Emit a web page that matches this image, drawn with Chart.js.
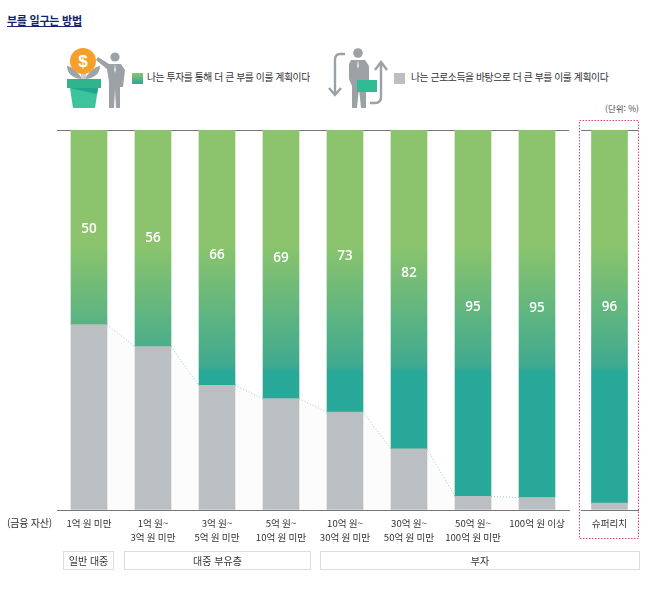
<!DOCTYPE html>
<html lang="ko">
<head>
<meta charset="utf-8">
<title>부를 일구는 방법</title>
<script src="https://cdn.jsdelivr.net/npm/chart.js@4"></script>
<style>
  html, body { margin: 0; padding: 0; background: #fff; overflow: hidden; }
  body { width: 658px; height: 592px; position: relative; font-family: "Noto Sans CJK KR", sans-serif; color: #333; }
  canvas { position: absolute; top: 0; }
  #main-chart { left: 0; }
  #super-chart { left: 575px; }
  .txt { position: absolute; white-space: nowrap; line-height: 1; }
  .title { left: 7px; top: 15px; font-size: 11px; font-weight: 700; letter-spacing: -0.25px; color: #14246b; text-decoration: underline; }
  .legend { top: 73px; font-size: 9.8px; letter-spacing: -0.4px; }
  .swatch { position: absolute; top: 73px; width: 11px; height: 11px; }
  .unit { right: 19px; top: 104px; font-size: 8.5px; color: #444; }
  .axis-name { left: 7px; top: 518px; font-size: 10px; letter-spacing: -0.2px; }
  .group { position: absolute; top: 551px; height: 17px; line-height: 17px; border: 1px solid #dcdcdc; text-align: center; font-size: 10px; box-sizing: content-box; }
  svg { position: absolute; }
</style>
</head>
<body>
<div class="txt title">부를 일구는 방법</div>

<svg style="left:60px;top:44px" width="72" height="68" viewBox="0 0 72 68">
  <path d="M21 33 C16 25 9 22 7 22 C7 29 12 34 21 35 Z M26 33 C31 25 38 22 40 22 C40 29 35 34 26 35 Z" fill="#9ea4a8"/>
  <rect x="21" y="28" width="5" height="8" fill="#c9cccd"/>
  <circle cx="23" cy="17" r="13" fill="#f5a02a"/>
  <text x="23" y="23" text-anchor="middle" font-family="Liberation Sans" font-weight="700" font-size="17" fill="#fff">$</text>
  <rect x="7" y="35" width="34" height="9" fill="#2fb48e"/>
  <path d="M10 44 H38 L35 64 H13 Z" fill="#3cc39c"/>
  <path d="M10 44 H38 L37 50 Z" fill="#1fa48d"/>
  <circle cx="55" cy="13" r="4.6" fill="#9ba1a5"/>
  <path d="M38 13 L49 20 H61 L65 26 L63 43 L60 43 V64 H56 L55 45 L54 64 H49 V38 L47 25 L36 16 Z" fill="#9ba1a5"/>
  <path d="M55 20 L54 26 L55 29 L56 26 Z" fill="#e6e8e9"/>
</svg>
<div class="swatch" style="left:132px;background:linear-gradient(#8bc46c,#2aa898)"></div>
<div class="txt legend" style="left:147px">나는 투자를 통해 더 큰 부를 이룰 계획이다</div>

<svg style="left:325px;top:44px" width="65" height="68" viewBox="0 0 65 68">
  <path d="M20 10 H15 Q10 10 10 16 V51 M4 44 L10 51 L16 44" fill="none" stroke="#9ba1a5" stroke-width="2.4"/>
  <path d="M45 59 H50 Q56 59 56 53 V19 M50 26 L56 18 L62 26" fill="none" stroke="#9ba1a5" stroke-width="2.4"/>
  <circle cx="33" cy="9" r="4.8" fill="#9ba1a5"/>
  <path d="M26 16 H40 L44 22 L44 38 H41 V64 H36 L34 44 L32 64 H27 V42 L24 35 L24 20 Z" fill="#9ba1a5"/>
  <path d="M33 16 L32 22 L33 25 L34 22 Z" fill="#e6e8e9"/>
  <rect x="32" y="36" width="20" height="12" fill="#30bb94"/>
</svg>
<div class="swatch" style="left:394px;background:#bcbfc2"></div>
<div class="txt legend" style="left:411px">나는 근로소득을 바탕으로 더 큰 부를 이룰 계획이다</div>

<div class="txt unit">(단위: %)</div>
<svg style="left:579px;top:120px" width="61" height="420" viewBox="0 0 61 420">
  <rect x="0.5" y="0.5" width="59" height="418" fill="none" stroke="#e0457b" stroke-width="1" stroke-dasharray="1.5 1.5"/>
</svg>

<canvas id="main-chart" width="575" height="592" style="width:575px;height:592px"></canvas>
<canvas id="super-chart" width="70" height="592" style="width:70px;height:592px"></canvas>

<div class="txt axis-name">(금융 자산)</div>
<div class="group" style="left:63px;width:49px">일반 대중</div>
<div class="group" style="left:124px;width:185px">대중 부유층</div>
<div class="group" style="left:320px;width:318px">부자</div>

<script>
// Asset brackets
const categories = [
  '1억 원 미만',
  ['1억 원~', '3억 원 미만'],
  ['3억 원~', '5억 원 미만'],
  ['5억 원~', '10억 원 미만'],
  ['10억 원~', '30억 원 미만'],
  ['30억 원~', '50억 원 미만'],
  ['50억 원~', '100억 원 미만'],
  '100억 원 이상'
];
const superCategories = ['슈퍼리치'];

// Printed numbers on the green part
const investLabels = [50, 56, 66, 69, 73, 82, 95, 95];
const superInvestLabels = [96];

// Bar heights (they differ a little from the printed numbers)
const laborValues = [48.8, 43, 32.8, 29.3, 25.8, 16.1, 3.6, 3.3];
const investValues = [51.2, 57, 67.2, 70.7, 74.2, 83.9, 96.4, 96.7];
const superLaborValues = [1.8];
const superInvestValues = [98.2];

// Gradient is the same for every bar, it runs over the whole plot height
function greenGradient(context) {
  const area = context.chart.chartArea;
  if (!area) return '#8bc46c';
  const g = context.chart.ctx.createLinearGradient(0, area.top, 0, area.bottom);
  g.addColorStop(0, '#8bc46c');
  g.addColorStop(0.3, '#8bc46c');
  g.addColorStop(0.622, '#3fa990');
  g.addColorStop(0.636, '#28a898');
  g.addColorStop(1, '#28a898');
  return g;
}

// Faint band and dotted line between the grey tops
const connectorPlugin = {
  id: 'connectors',
  beforeDatasetsDraw(chart) {
    const bars = chart.getDatasetMeta(0).data;
    const bottom = chart.chartArea.bottom;
    const c = chart.ctx;
    c.save();
    for (let i = 0; i < bars.length - 1; i++) {
      const x1 = bars[i].x + bars[i].width / 2;
      const x2 = bars[i + 1].x - bars[i + 1].width / 2;
      c.fillStyle = '#fcfcfc';
      c.beginPath();
      c.moveTo(x1, bars[i].y);
      c.lineTo(x2, bars[i + 1].y);
      c.lineTo(x2, bottom);
      c.lineTo(x1, bottom);
      c.closePath();
      c.fill();
      c.strokeStyle = '#97cbbf';
      c.setLineDash([1, 2]);
      c.beginPath();
      c.moveTo(x1, bars[i].y);
      c.lineTo(x2, bars[i + 1].y);
      c.stroke();
    }
    c.restore();
  }
};

// White numbers inside the green part
const numberPlugin = {
  id: 'numbers',
  afterDatasetsDraw(chart, args, opts) {
    const c = chart.ctx;
    c.save();
    c.fillStyle = '#fff';
    c.font = '600 13.5px "Open Sans", sans-serif';
    c.textAlign = 'center';
    c.textBaseline = 'middle';
    chart.getDatasetMeta(1).data.forEach((bar, i) => {
      const mid = (bar.y + bar.base) / 2;
      c.fillText(opts.labels[i], bar.x, mid + opts.shift[i]);
    });
    c.restore();
  }
};

function makeChart(id, labels, labor, invest, printed, shift, padding, plugins) {
  return new Chart(document.getElementById(id).getContext('2d'), {
    type: 'bar',
    data: {
      labels: labels,
      datasets: [
        { label: '나는 근로소득을 바탕으로 더 큰 부를 이룰 계획이다', data: labor, backgroundColor: '#bcbfc2', barThickness: 36 },
        { label: '나는 투자를 통해 더 큰 부를 이룰 계획이다', data: invest, backgroundColor: greenGradient, barThickness: 36 }
      ]
    },
    options: {
      responsive: false,
      animation: false,
      layout: { padding: padding },
      plugins: {
        legend: { display: false },
        tooltip: { enabled: false },
        numbers: { labels: printed, shift: shift }
      },
      scales: {
        x: {
          stacked: true,
          afterFit(scale) { scale.height = 82; },
          border: { color: '#777', width: 1 },
          grid: { display: false },
          ticks: {
            color: '#333',
            padding: -1,
            autoSkip: false,
            maxRotation: 0,
            font: { family: '"Noto Sans CJK KR"', size: 9.6, lineHeight: 1.42 }
          }
        },
        y: {
          stacked: true,
          min: 0,
          max: 100,
          ticks: { display: false, stepSize: 100 },
          border: { display: false },
          grid: {
            drawTicks: false,
            color: ctx => ctx.tick.value === 100 ? '#777' : 'transparent'
          }
        }
      }
    },
    plugins: plugins
  });
}

makeChart('main-chart', categories, laborValues, investValues, investLabels,
  [2, 0, -3, -6, -15, -16, -6, -6],
  { left: 57, right: 6, top: 130, bottom: 0 },
  [connectorPlugin, numberPlugin]);

makeChart('super-chart', superCategories, superLaborValues, superInvestValues, superInvestLabels,
  [-9],
  { left: 6, right: 7, top: 130, bottom: 0 },
  [numberPlugin]);
</script>
</body>
</html>
